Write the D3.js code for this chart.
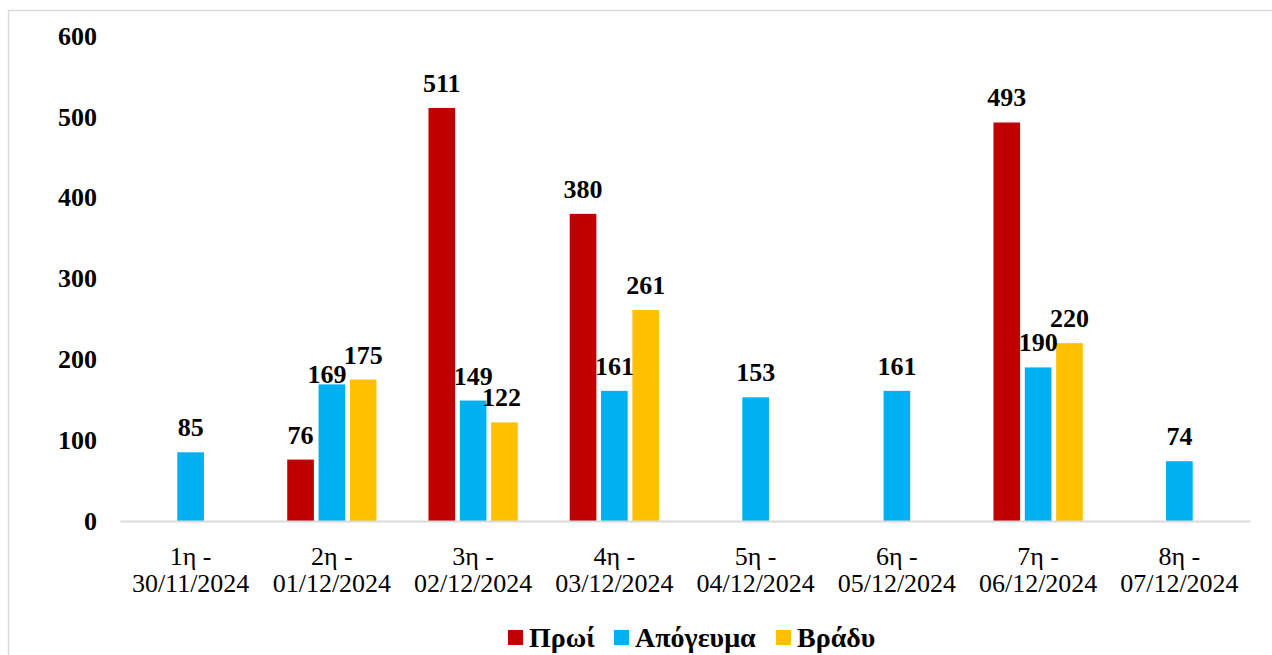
<!DOCTYPE html>
<html><head><meta charset="utf-8">
<script src="https://cdn.jsdelivr.net/npm/d3@7"></script>
<style>
html,body{margin:0;padding:0;background:#fff;}
svg{display:block;font-family:"Liberation Serif","Times New Roman",serif;}
</style></head>
<body><svg id="c" width="1272" height="655"></svg>
<script>
const categories = [["1η -","30/11/2024"],["2η -","01/12/2024"],["3η -","02/12/2024"],["4η -","03/12/2024"],["5η -","04/12/2024"],["6η -","05/12/2024"],["7η -","06/12/2024"],["8η -","07/12/2024"]];
const seriesNames = ["Πρωί","Απόγευμα","Βράδυ"];
const proi = [null,76,511,380,null,null,493,null];
const apogevma = [85,169,149,161,153,161,190,74];
const vradu = [null,175,122,261,null,null,220,null];
const yTicks = [0,100,200,300,400,500,600];
const colors = ["#C00000","#00B0F0","#FFC000"];

const seriesValues = [proi, apogevma, vradu];
const svg = d3.select("#c");

svg.append("rect").attr("x",8.5).attr("y",10.5).attr("width",1400).attr("height",800)
  .attr("fill","none").attr("stroke","#d9d9d9").attr("stroke-width",1.5);

const catKeys = categories.map((c,i)=>i);
const x = d3.scaleBand().domain(catKeys).range([120,1250]).paddingInner(0).paddingOuter(0);
const xs = d3.scaleBand().domain(seriesNames).range([0,94]).paddingInner(0.15).paddingOuter(0.075);
const off = (x.bandwidth()-94)/2;
const y = d3.scaleLinear().domain([0,600]).range([521,36]);

// y axis labels
const yAxis = d3.axisLeft(y).tickValues(yTicks).tickSize(0).tickPadding(0);
const ya = svg.append("g").attr("transform","translate(97,0)").call(yAxis);
ya.select(".domain").remove();
ya.selectAll("text").attr("font-size",26).attr("font-weight","bold").attr("fill","#000")
  .attr("font-family","Liberation Serif");

// bars
const data = [];
seriesValues.forEach((vals,si)=>vals.forEach((v,ci)=>{ if(v!=null) data.push({s:seriesNames[si],si,ci,v}); }));
svg.append("g").selectAll("rect").data(data).join("rect")
  .attr("x",d=>x(d.ci)+off+xs(d.s))
  .attr("y",d=>y(d.v))
  .attr("width",xs.bandwidth())
  .attr("height",d=>y(0)-y(d.v))
  .attr("fill",d=>colors[d.si]);

// x axis
const xAxis = d3.axisBottom(x).tickSize(0).tickFormat("");
const xa = svg.append("g").attr("transform","translate(0,521)").call(xAxis);
xa.select(".domain").attr("stroke","#d9d9d9").attr("stroke-width",2);
xa.selectAll(".tick").each(function(d){
  const g = d3.select(this);
  [0,1].forEach(k=>{
    g.append("text").attr("fill","#000").attr("font-size",26)
      .attr("text-anchor","middle").attr("font-family","Liberation Serif")
      .attr("x",0).attr("y",44 + k*27).text(categories[d][k]);
  });
});

// data labels
const nudge = {"1-1":[-5,15],"2-2":[-3,0]};
svg.append("g").selectAll("text").data(data).join("text")
  .attr("x",d=>x(d.ci)+off+xs(d.s)+xs.bandwidth()/2 + (nudge[d.si+"-"+d.ci]||[0,0])[0])
  .attr("y",d=>y(d.v)-16 + (nudge[d.si+"-"+d.ci]||[0,0])[1])
  .attr("text-anchor","middle").attr("font-size",26).attr("font-weight","bold").attr("fill","#000")
  .text(d=>d.v);

// legend
const lg = svg.append("g").attr("transform","translate(508,630)");
const lx = [0,106,268];
seriesNames.forEach((n,i)=>{
  const g = lg.append("g").attr("transform",`translate(${lx[i]},0)`);
  g.append("rect").attr("width",15).attr("height",15).attr("fill",colors[i]);
  g.append("text").attr("x",21).attr("y",17).attr("font-size",28).attr("font-weight","bold").attr("fill","#000").text(n);
});
</script></body></html>
